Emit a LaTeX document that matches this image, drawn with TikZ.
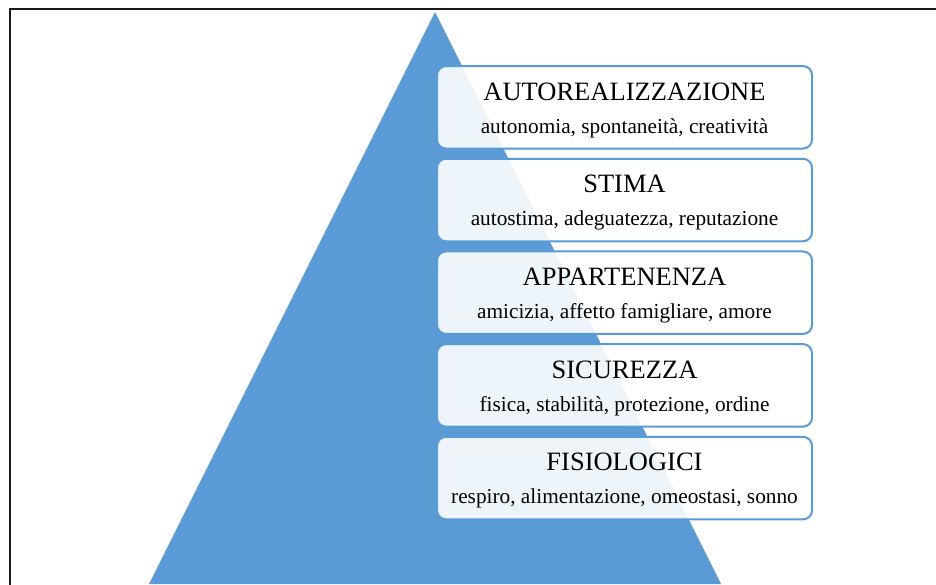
\documentclass[tikz,border=0pt]{standalone}
\usepackage{fontspec}
\setmainfont{Liberation Serif}
\definecolor{pyrblue}{HTML}{5B9BD5}
\begin{document}
\begin{tikzpicture}[x=1pt,y=-1pt,
  level/.style={draw=pyrblue, line width=2pt, fill=white, fill opacity=0.9,
    text opacity=1, rounded corners=9pt, minimum width=375pt, minimum height=82.5pt,
    inner sep=0pt},
  title/.style={anchor=base, font=\fontsize{26.5}{30}\selectfont, inner sep=0pt},
  detail/.style={anchor=base, font=\fontsize{21.3}{25}\selectfont, inner sep=0pt}]
  \useasboundingbox (0,0) rectangle (936,584);
  % frame
  \draw[line width=2pt, black!90] (10,585) -- (10,9) -- (937,9);
  % pyramid
  \fill[pyrblue] (435,12) -- (149,584) -- (721,584) -- cycle;
  % levels
  \foreach \i/\name/\head/\sub in {
      0/auto/AUTOREALIZZAZIONE/{autonomia, spontaneità, creatività},
      1/stima/STIMA/{autostima, adeguatezza, reputazione},
      2/app/APPARTENENZA/{amicizia, affetto famigliare, amore},
      3/sic/SICUREZZA/{fisica, stabilità, protezione, ordine},
      4/fis/FISIOLOGICI/{respiro, alimentazione, omeostasi, sonno}} {
    \pgfmathsetmacro{\cy}{107.3+92.7*\i}
    \node[level] (\name) at (624.5,\cy) {};
    \node[title] (\name-t) at ([yshift=7.3pt]\name.center) {\head};
    \node[detail] (\name-d) at ([yshift=-25.7pt]\name.center) {\sub};
  }
\end{tikzpicture}
\end{document}
